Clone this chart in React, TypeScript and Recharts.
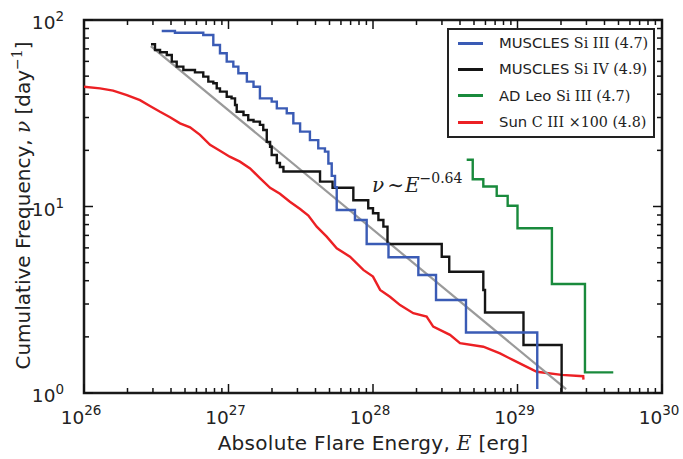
import React from 'react';
import { LineChart, Line, XAxis, YAxis, ReferenceArea, ReferenceDot, Legend } from 'recharts';

// ---------- tick labels ----------
const xMajorTicks = [1e26, 1e27, 1e28, 1e29, 1e30];
const xMajorExponents = ['26', '27', '28', '29', '30'];
const yMajorTicks = [1, 10, 100];
const yMajorExponents = ['0', '1', '2'];
const minorMultipliers = [2, 3, 4, 5, 6, 7, 8, 9];

// ---------- series (E in erg, v = cumulative frequency per day) ----------
const musclesSiIII = [
  { E: 3.45e26, v: 87.3 }, { E: 4.26e26, v: 85.5 }, { E: 6.69e26, v: 83.1 }, { E: 7.85e26, v: 73.4 },
  { E: 8.73e26, v: 66.3 }, { E: 9.72e26, v: 59.8 }, { E: 1.08e27, v: 56.2 }, { E: 1.17e27, v: 51.8 },
  { E: 1.34e27, v: 46.7 }, { E: 1.49e27, v: 43.9 }, { E: 1.65e27, v: 38.0 }, { E: 1.99e27, v: 36.5 },
  { E: 2.16e27, v: 33.6 }, { E: 2.53e27, v: 31.6 }, { E: 2.81e27, v: 27.9 }, { E: 3.13e27, v: 25.2 },
  { E: 3.66e27, v: 22.7 }, { E: 4.18e27, v: 20.5 }, { E: 4.65e27, v: 19.7 }, { E: 4.91e27, v: 17.0 },
  { E: 5.18e27, v: 14.6 }, { E: 5.46e27, v: 12.7 }, { E: 5.61e27, v: 9.58 }, { E: 7.5e27, v: 8.47 },
  { E: 9.04e27, v: 6.29 }, { E: 1.28e28, v: 5.34 }, { E: 2.06e28, v: 4.29 }, { E: 2.73e28, v: 3.15 },
  { E: 4.4e28, v: 2.11 }, { E: 1.37e29, v: 1.05 },
];

const musclesSiIV = [
  { E: 2.91e26, v: 74.1 }, { E: 3.1e26, v: 69.1 }, { E: 3.36e26, v: 67.1 }, { E: 3.74e26, v: 64.9 },
  { E: 4.05e26, v: 59.8 }, { E: 4.38e26, v: 56.2 }, { E: 4.87e26, v: 53.9 }, { E: 5.86e26, v: 52.4 },
  { E: 6.69e26, v: 49.7 }, { E: 7.25e26, v: 46.7 }, { E: 7.85e26, v: 45.8 }, { E: 8.29e26, v: 43.0 },
  { E: 8.73e26, v: 41.3 }, { E: 9.72e26, v: 38.8 }, { E: 1.05e27, v: 38.0 }, { E: 1.11e27, v: 35.0 },
  { E: 1.14e27, v: 32.2 }, { E: 1.27e27, v: 30.9 }, { E: 1.37e27, v: 29.1 }, { E: 1.49e27, v: 28.5 },
  { E: 1.65e27, v: 27.4 }, { E: 1.74e27, v: 25.7 }, { E: 1.84e27, v: 22.2 }, { E: 1.94e27, v: 20.9 },
  { E: 1.99e27, v: 18.9 }, { E: 2.16e27, v: 17.1 }, { E: 2.27e27, v: 16.3 }, { E: 2.4e27, v: 15.4 },
  { E: 4.3e27, v: 13.6 }, { E: 5.25e27, v: 12.6 }, { E: 7.31e27, v: 10.8 }, { E: 9.27e27, v: 9.78 },
  { E: 1.0e28, v: 9.2 }, { E: 1.09e28, v: 8.47 }, { E: 1.18e28, v: 7.8 }, { E: 1.26e28, v: 6.29 },
  { E: 2.99e28, v: 5.38 }, { E: 3.37e28, v: 4.47 }, { E: 5.8e28, v: 3.57 }, { E: 5.96e28, v: 2.7 },
  { E: 1.1e29, v: 1.81 }, { E: 2.02e29, v: 1.0 },
];

const adLeoSiIII = [
  { E: 4.45e28, v: 17.8 }, { E: 4.9e28, v: 14.0 }, { E: 5.8e28, v: 12.8 }, { E: 7.18e28, v: 11.4 },
  { E: 8.55e28, v: 10.1 }, { E: 1.0e29, v: 7.64 }, { E: 1.73e29, v: 3.84 }, { E: 2.93e29, v: 1.29 },
  { E: 4.6e29, v: 1.29 },
];

const sunCIIIx100 = [
  { E: 1.0e26, v: 43.9 }, { E: 1.29e26, v: 43.0 }, { E: 1.59e26, v: 41.8 }, { E: 1.98e26, v: 39.6 },
  { E: 2.44e26, v: 37.2 }, { E: 2.86e26, v: 34.6 }, { E: 3.36e26, v: 32.2 }, { E: 3.94e26, v: 30.1 },
  { E: 4.62e26, v: 27.9 }, { E: 5.42e26, v: 26.6 }, { E: 6.35e26, v: 24.2 }, { E: 7.45e26, v: 21.4 },
  { E: 8.73e26, v: 19.9 }, { E: 1.02e27, v: 18.5 }, { E: 1.2e27, v: 17.4 }, { E: 1.41e27, v: 16.0 },
  { E: 1.65e27, v: 14.2 }, { E: 1.94e27, v: 12.6 }, { E: 2.27e27, v: 11.7 }, { E: 2.66e27, v: 10.6 },
  { E: 3.13e27, v: 9.7 }, { E: 3.57e27, v: 8.95 }, { E: 4.08e27, v: 7.8 }, { E: 4.78e27, v: 6.89 },
  { E: 5.61e27, v: 5.97 }, { E: 6.93e27, v: 5.38 }, { E: 8.57e27, v: 4.57 }, { E: 1.0e28, v: 4.21 },
  { E: 1.12e28, v: 3.57 }, { E: 1.31e28, v: 3.28 }, { E: 1.54e28, v: 2.96 }, { E: 1.9e28, v: 2.68 },
  { E: 2.35e28, v: 2.57 }, { E: 2.61e28, v: 2.27 }, { E: 3.41e28, v: 2.05 }, { E: 4.0e28, v: 1.85 },
  { E: 5.8e28, v: 1.77 }, { E: 7.57e28, v: 1.63 }, { E: 9.35e28, v: 1.5 }, { E: 1.16e29, v: 1.38 },
  { E: 1.36e29, v: 1.3 }, { E: 2.02e29, v: 1.25 }, { E: 2.85e29, v: 1.23 }, { E: 2.86e29, v: 1.18 },
];

const powerLawFit = [
  { E: 2.9e26, v: 72.4 },
  { E: 2.17e29, v: 1.05 },
];

const annotationPoint = { E: 9.84e27, v: 12.0 };

const seriesMeta = [
  { id: 'muscles-si3', name: 'MUSCLES', ion: 'Si III (4.7)', color: '#3a5bb5', data: musclesSiIII },
  { id: 'muscles-si4', name: 'MUSCLES', ion: 'Si IV (4.9)', color: '#151515', data: musclesSiIV },
  { id: 'adleo-si3', name: 'AD Leo', ion: 'Si III (4.7)', color: '#198a3c', data: adLeoSiIII },
  { id: 'sun-c3', name: 'Sun', ion: 'C III \u00d7100 (4.8)', color: '#ec2024', data: sunCIIIx100 },
];

// ---------- layout ----------
const W = 683;
const H = 459;
const MARGIN = { top: 20, right: 21, bottom: 0, left: 0 };
const Y_AXIS_W = 84;
const X_AXIS_H = 66;
const PLOT_W = W - MARGIN.left - MARGIN.right - Y_AXIS_W;
const PLOT_H = H - MARGIN.top - MARGIN.bottom - X_AXIS_H;
const SANS = 'DejaVu Sans, sans-serif';
const SERIF = 'DejaVu Serif, serif';
const TEXT = '#222';

const xTicks = xMajorTicks.flatMap((t, i) =>
  i < xMajorTicks.length - 1 ? [t, ...minorMultipliers.map((m) => m * t)] : [t]
);
const yTicks = yMajorTicks.flatMap((t, i) =>
  i < yMajorTicks.length - 1 ? [t, ...minorMultipliers.map((m) => m * t)] : [t]
);

const XTick = (props: any) => {
  const { x, y, payload } = props;
  const idx = xMajorTicks.indexOf(payload.value);
  const major = idx >= 0;
  const len = major ? 9 : 5;
  return (
    <g>
      <line x1={x} x2={x} y1={y} y2={y - len} stroke="#111" strokeWidth={1.5} />
      <line x1={x} x2={x} y1={y - PLOT_H} y2={y - PLOT_H + len} stroke="#111" strokeWidth={1.5} />
      {major && (
        <text x={x - 3} y={y + 31} textAnchor="middle" fontFamily={SANS} fontSize={18.5} fill={TEXT}>
          10
          <tspan dy={-9} fontSize={13.5}>{xMajorExponents[idx]}</tspan>
        </text>
      )}
    </g>
  );
};

const YTick = (props: any) => {
  const { x, y, payload } = props;
  const idx = yMajorTicks.indexOf(payload.value);
  const major = idx >= 0;
  const len = major ? 9 : 5;
  return (
    <g>
      <line x1={x} x2={x + len} y1={y} y2={y} stroke="#111" strokeWidth={1.5} />
      <line x1={x + PLOT_W} x2={x + PLOT_W - len} y1={y} y2={y} stroke="#111" strokeWidth={1.5} />
      {major && (
        <text x={x - 20} y={y + 9} textAnchor="end" fontFamily={SANS} fontSize={18.5} fill={TEXT}>
          10
          <tspan dy={-8} fontSize={13.5}>{yMajorExponents[idx]}</tspan>
        </text>
      )}
    </g>
  );
};

const XTitle = () => {
  const cx = MARGIN.left + Y_AXIS_W + PLOT_W / 2;
  const baseY = MARGIN.top + PLOT_H + 57;
  return (
    <text x={cx} y={baseY} textAnchor="middle" fontFamily={SANS} fontSize={20} letterSpacing={0.3} fill={TEXT}>
      Absolute Flare Energy,{' '}
      <tspan fontFamily={SERIF} fontStyle="italic">E</tspan>
      <tspan> [erg]</tspan>
    </text>
  );
};

const YTitle = () => {
  const cx = 30;
  const cy = MARGIN.top + PLOT_H / 2 - 1;
  return (
    <text
      x={cx}
      y={cy}
      transform={`rotate(-90, ${cx}, ${cy})`}
      textAnchor="middle"
      fontFamily={SANS}
      fontSize={20}
      fill={TEXT}
    >
      Cumulative Frequency,{' '}
      <tspan fontFamily={SERIF} fontStyle="italic">{'\u03bd'}</tspan>
      <tspan> [day</tspan>
      <tspan dy={-8} fontSize={14} fontFamily={SERIF}>{'\u22121'}</tspan>
      <tspan dy={8}>]</tspan>
    </text>
  );
};

const AnnotationShape = (props: any) => {
  const { cx, cy } = props;
  return (
    <text x={cx} y={cy} fontFamily={SERIF} fontSize={20} fill={TEXT}>
      <tspan fontStyle="italic">{'\u03bd'}</tspan>
      <tspan dx={3}>{'\u223c'}</tspan>
      <tspan dx={1} fontStyle="italic">E</tspan>
      <tspan dy={-9} fontSize={14}>{'\u22120.64'}</tspan>
    </text>
  );
};

const LegendBox = () => (
  <div
    style={{
      boxSizing: 'border-box',
      width: 208,
      height: 110,
      border: '2px solid #222',
      background: '#fff',
    }}
  >
    {seriesMeta.map((s) => (
      <div key={s.id} style={{ display: 'flex', alignItems: 'center', height: 26.3 }}>
        <div style={{ width: 25, height: 3, background: s.color, marginLeft: 9, flex: 'none' }} />
        <div style={{ marginLeft: 16, whiteSpace: 'nowrap', color: TEXT, lineHeight: '20px' }}>
          <span style={{ fontFamily: SANS, fontSize: 14.8 }}>{s.name}</span>
          <span style={{ fontFamily: SERIF, fontSize: 14.3 }}> {s.ion}</span>
        </div>
      </div>
    ))}
  </div>
);

export default function App() {
  return (
    <div style={{ position: 'absolute', left: 0, top: 0, width: W, height: H, background: '#fff' }}>
      <LineChart width={W} height={H} margin={MARGIN}>
        <XAxis
          dataKey="E"
          type="number"
          scale="log"
          domain={[1e26, 1e30]}
          allowDataOverflow
          ticks={xTicks}
          interval={0}
          tick={<XTick />}
          tickLine={false}
          axisLine={false}
          tickSize={0}
          tickMargin={0}
          height={X_AXIS_H}
          label={{ content: <XTitle /> }}
        />
        <YAxis
          dataKey="v"
          type="number"
          scale="log"
          domain={[1, 100]}
          allowDataOverflow
          ticks={yTicks}
          interval={0}
          tick={<YTick />}
          tickLine={false}
          axisLine={false}
          tickSize={0}
          tickMargin={0}
          width={Y_AXIS_W}
          label={{ content: <YTitle /> }}
        />
        <Line
          data={sunCIIIx100}
          dataKey="v"
          type="linear"
          stroke={seriesMeta[3].color}
          strokeWidth={2.4}
          dot={false}
          activeDot={false}
          isAnimationActive={false}
        />
        <Line
          data={powerLawFit}
          dataKey="v"
          type="linear"
          stroke="#9a9a9a"
          strokeWidth={2.2}
          dot={false}
          activeDot={false}
          isAnimationActive={false}
        />
        <Line
          data={adLeoSiIII}
          dataKey="v"
          type="stepAfter"
          stroke={seriesMeta[2].color}
          strokeWidth={2.4}
          dot={false}
          activeDot={false}
          isAnimationActive={false}
        />
        <Line
          data={musclesSiIV}
          dataKey="v"
          type="stepAfter"
          stroke={seriesMeta[1].color}
          strokeWidth={2.4}
          dot={false}
          activeDot={false}
          isAnimationActive={false}
        />
        <Line
          data={musclesSiIII}
          dataKey="v"
          type="stepAfter"
          stroke={seriesMeta[0].color}
          strokeWidth={2.4}
          dot={false}
          activeDot={false}
          isAnimationActive={false}
        />
        <ReferenceDot
          x={annotationPoint.E}
          y={annotationPoint.v}
          r={0}
          shape={<AnnotationShape />}
        />
        <ReferenceArea
          x1={1e26}
          x2={1e30}
          y1={1}
          y2={100}
          fill="none"
          fillOpacity={0}
          stroke="#1a1a1a"
          strokeWidth={2.5}
        />
        <Legend
          layout="horizontal"
          verticalAlign="middle"
          align="center"
          content={<LegendBox />}
          wrapperStyle={{ position: 'absolute', left: 447, top: 28, width: 208, height: 110 }}
        />
      </LineChart>
    </div>
  );
}
